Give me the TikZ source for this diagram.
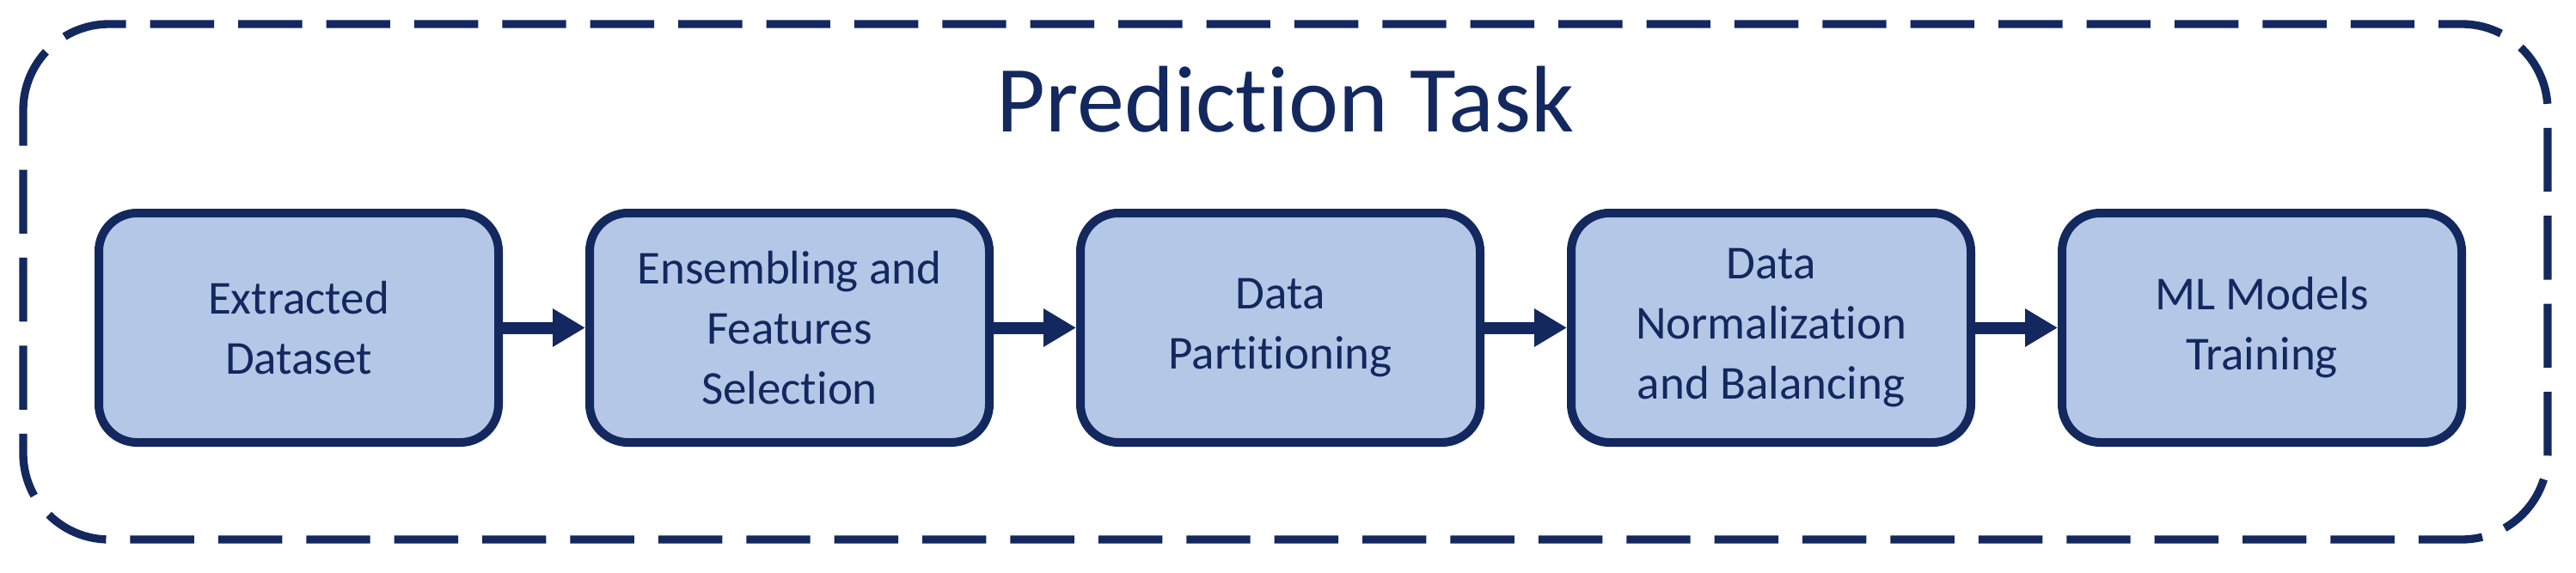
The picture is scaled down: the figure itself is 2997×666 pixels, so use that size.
\documentclass[tikz,border=0pt]{standalone}
\usepackage{fontspec}
\setmainfont{Carlito}[Ligatures={NoCommon}]
\usetikzlibrary{arrows.meta}
\definecolor{navy}{HTML}{13285E}
\definecolor{boxfill}{HTML}{B4C7E7}
\begin{document}
\begin{tikzpicture}[x=0.25pt,y=0.25pt,
  stepbox/.style={draw=navy, fill=boxfill, line width=2.5pt, rounded corners=11.1pt,
    minimum width=116.25pt, minimum height=66.75pt, inner sep=0pt, align=center,
    text=navy, font=\fontsize{13.75pt}{17.5pt}\selectfont},
  flow/.style={draw=navy, line width=3.5pt, -{Triangle[length=9.5pt,width=10.5pt]}},
  outerframe/.style={draw=navy, line width=2.33pt, dash pattern=on 18.6pt off 7pt},
  titletext/.style={text=navy, font=\fontsize{27.5pt}{33pt}\selectfont, anchor=base, inner sep=0pt}
]
\useasboundingbox (0,0) rectangle (2997,666);
\draw[outerframe] (27,538) arc[start angle=180,end angle=90,radius=100]
  -- (2864,638) arc[start angle=90,end angle=0,radius=100]
  -- (2964,138) arc[start angle=0,end angle=-90,radius=100]
  -- (127,38) arc[start angle=-90,end angle=-180,radius=100]
  -- cycle;
\node[titletext] (title) at (1495.5,513) {Prediction Task};
\node[stepbox] (b1) at (347.5,284.5) {Extracted\\Dataset};
\node[stepbox] (b2) at (918.5,284.5) {Ensembling and\\Features\\Selection};
\node[stepbox] (b3) at (1489.5,284.5) {Data\\Partitioning};
\node[stepbox] (b4) at (2060.5,284.5) {Data\\Normalization\\and Balancing};
\node[stepbox] (b5) at (2631.5,284.5) {ML Models\\Training};
\draw[flow] (b1) -- (b2);
\draw[flow] (b2) -- (b3);
\draw[flow] (b3) -- (b4);
\draw[flow] (b4) -- (b5);
\end{tikzpicture}
\end{document}
